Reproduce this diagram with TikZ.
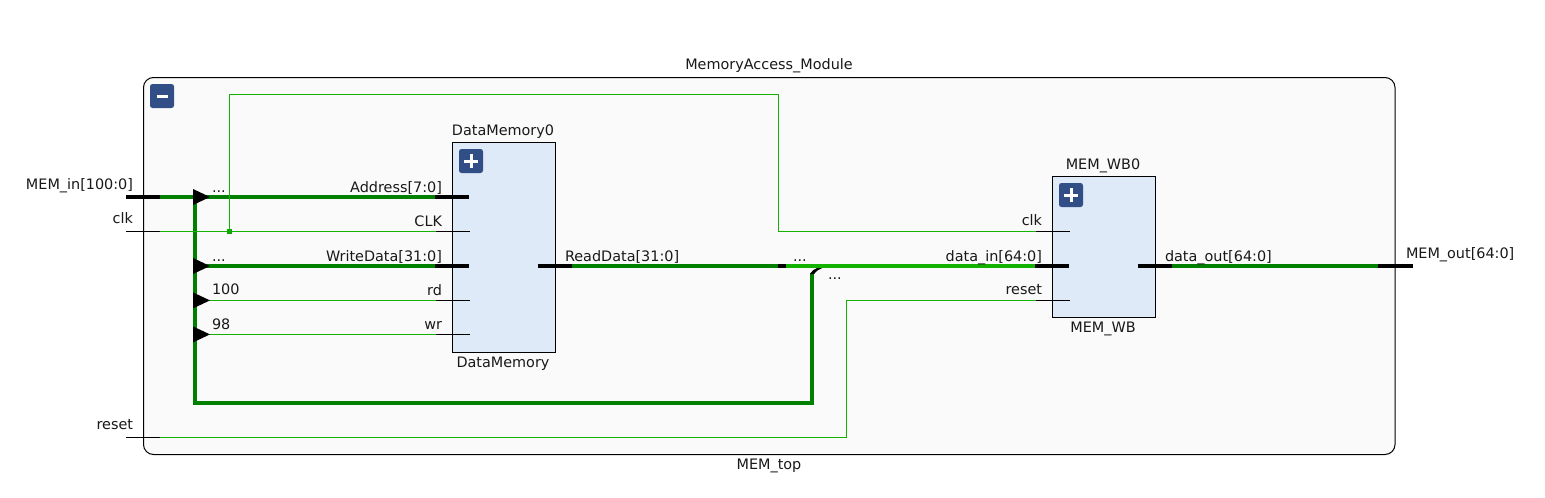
\documentclass[tikz,border=0pt]{standalone}
\usepackage{fontspec}
\setmainfont{DejaVu Sans}
\definecolor{busgreen}{RGB}{0,128,0}
\definecolor{netgreen}{RGB}{20,178,0}
\definecolor{modfill}{RGB}{250,250,250}
\definecolor{blockfill}{RGB}{223,234,249}
\definecolor{btnfill}{RGB}{50,78,134}
\definecolor{txt}{RGB}{25,25,25}
\tikzset{
  lbl/.style={inner sep=0pt,outer sep=0pt,text=txt,font=\fontsize{14.4}{17}\selectfont},
  lblr/.style={lbl,anchor=base east},
  lbll/.style={lbl,anchor=base west},
  lblc/.style={lbl,anchor=base},
  modulebox/.style={draw=black,line width=1pt,fill=modfill,rounded corners=10pt},
  blockbox/.style={draw=black,line width=1pt,fill=blockfill,inner sep=0pt,outer sep=0pt,anchor=north west},
  btn/.style={fill=btnfill,draw=none,rounded corners=2.5pt,minimum size=24pt,inner sep=0pt,outer sep=0pt},
  btnmark/.style={draw=white,line width=3pt},
  busblack/.style={draw=black,line width=4pt},
  netblack/.style={draw=black,line width=1pt},
  busg/.style={draw=busgreen,line width=4pt},
  busl/.style={draw=netgreen,line width=4pt},
  netg/.style={draw=netgreen,line width=1.3pt},
  rip/.style={fill=black,draw=none},
}
\begin{document}
\begin{tikzpicture}[x=1pt,y=-1pt]
\useasboundingbox (0,0) rectangle (1545,498);
\fill[white] (0,0) rectangle (1545,498);
% module
\draw[modulebox] (143.5,77.5) rectangle (1395,454.5);
\node[btn] (collapse) at (162,96) {};
\draw[btnmark] (156.5,96) -- (167.5,96);
% blocks
\node[blockbox,minimum width=103pt,minimum height=210pt] (dm) at (452.5,142.5) {};
\node[blockbox,minimum width=103pt,minimum height=141pt] (wb) at (1052.5,176.5) {};
\node[btn] (dmbtn) at (471,161) {};
\draw[btnmark] (464,161) -- (478,161) (471,154) -- (471,168);
\node[btn] (wbbtn) at (1071,195) {};
\draw[btnmark] (1064,195) -- (1078,195) (1071,188) -- (1071,202);
% coordinates
\coordinate (inA) at (126,197);
\coordinate (inB) at (160,197);
\coordinate (addrA) at (435,197);
\coordinate (addrB) at (469,197);
\coordinate (clkA) at (126,231.4);
\coordinate (clkB) at (160,231.4);
\coordinate (clkC) at (436,231.4);
\coordinate (clkD) at (470,231.4);
\coordinate (tap) at (229.5,231.4);
\coordinate (tapUp) at (229.5,94.5);
\coordinate (tapR) at (778.5,94.5);
\coordinate (tapD) at (778.5,231.4);
\coordinate (wbclkA) at (1036,231.4);
\coordinate (wbclkB) at (1070,231.4);
\coordinate (wdA) at (435,266);
\coordinate (wdB) at (469,266);
\coordinate (rdA) at (436,300.4);
\coordinate (rdB) at (470,300.4);
\coordinate (wrA) at (436,334.4);
\coordinate (wrB) at (470,334.4);
\coordinate (rdataA) at (538,266);
\coordinate (rdataB) at (572,266);
\coordinate (rdataC) at (778,266);
\coordinate (rdataD) at (786,266);
\coordinate (dinA) at (1035,266);
\coordinate (dinB) at (1069,266);
\coordinate (doutA) at (1138,266);
\coordinate (doutB) at (1172,266);
\coordinate (doutC) at (1378,266);
\coordinate (doutD) at (1413,266);
\coordinate (rstA) at (126,437.3);
\coordinate (rstB) at (160,437.3);
\coordinate (rstC) at (846.6,437.3);
\coordinate (rstD) at (846.6,300.4);
\coordinate (wbrA) at (1036,300.4);
\coordinate (wbrB) at (1070,300.4);
\coordinate (busT) at (195,197);
\coordinate (busL) at (195,403);
\coordinate (busR) at (812,403);
\coordinate (busU) at (812,274);
% wires
\draw[busg,line join=miter] (busT) -- (busL) -- (busR) -- (busU);
\fill[rip] (809.8,274) .. controls (811.5,271) and (814.5,268.8) .. (817.5,267.8) -- (822,268.4) .. controls (818.5,269.5) and (815.5,271.5) .. (814,274) -- cycle;
\draw[busg] (inB) -- (addrA);
\draw[busg] (195,266) -- (wdA);
\draw[netg] (195,300.4) -- (rdA);
\draw[netg] (195,334.4) -- (wrA);
\draw[netg] (clkB) -- (clkC);
\draw[netg] (tap) -- (tapUp) -- (tapR) -- (tapD) -- (wbclkA);
\draw[netg] (rstB) -- (rstC) -- (rstD) -- (wbrA);
\draw[busg] (rdataB) -- (rdataC);
\draw[busl] (rdataD) -- (dinA);
\draw[busg] (doutB) -- (doutC);
% black stubs
\draw[busblack] (inA) -- (inB);
\draw[busblack] (addrA) -- (addrB);
\draw[busblack] (wdA) -- (wdB);
\draw[busblack] (rdataA) -- (rdataB);
\draw[busblack] (rdataC) -- (rdataD);
\draw[busblack] (dinA) -- (dinB);
\draw[busblack] (doutA) -- (doutB);
\draw[busblack] (doutC) -- (doutD);
\draw[netblack] (clkA) -- (clkB);
\draw[netblack] (clkC) -- (clkD);
\draw[netblack] (rdA) -- (rdB);
\draw[netblack] (wrA) -- (wrB);
\draw[netblack] (wbclkA) -- (wbclkB);
\draw[netblack] (wbrA) -- (wbrB);
\draw[netblack] (rstA) -- (rstB);
% rippers
\fill[rip] (193,189) -- (210,197) -- (193,205) -- cycle;
\fill[rip] (193,258) -- (210,266) -- (193,274) -- cycle;
\fill[rip] (193,292.4) -- (210,300.4) -- (193,308.4) -- cycle;
\fill[rip] (193,326.4) -- (210,334.4) -- (193,342.4) -- cycle;
\fill[netgreen!80!busgreen] (227,229) rectangle (232,234);
% labels
\node[lblc] (lmod) at (769,69) {MemoryAccess\_Module};
\node[lblc] (ltop) at (769,469) {MEM\_top};
\node[lblc] (ldm0) at (503,135) {DataMemory0};
\node[lblc] (ldm) at (503,367) {DataMemory};
\node[lblc] (lwb0) at (1103,169) {MEM\_WB0};
\node[lblc] (lwb) at (1103,332) {MEM\_WB};
\node[lblr] (lin) at (133,189) {MEM\_in[100:0]};
\node[lblr] (lclk) at (133,223) {clk};
\node[lblr] (lrst) at (133,429) {reset};
\node[lbll] (lout) at (1406,258) {MEM\_out[64:0]};
\node[lbll] (d1) at (212,192) {...};
\node[lbll] (d2) at (212,261) {...};
\node[lbll] (l100) at (212,294) {100};
\node[lbll] (l98) at (212,329) {98};
\node[lblr] (laddr) at (442,192) {Address[7:0]};
\node[lblr] (lCLK) at (442,226) {CLK};
\node[lblr] (lwd) at (442,261) {WriteData[31:0]};
\node[lblr] (lrd) at (442,295) {rd};
\node[lblr] (lwr) at (442,329) {wr};
\node[lbll] (lrdata) at (565,261) {ReadData[31:0]};
\node[lbll] (d3) at (793,261) {...};
\node[lbll] (d4) at (828,279) {...};
\node[lblr] (ldin) at (1042,261) {data\_in[64:0]};
\node[lblr] (lwc) at (1042,225) {clk};
\node[lblr] (lwr2) at (1042,294.5) {reset};
\node[lbll] (ldout) at (1165,261) {data\_out[64:0]};
\end{tikzpicture}
\end{document}
